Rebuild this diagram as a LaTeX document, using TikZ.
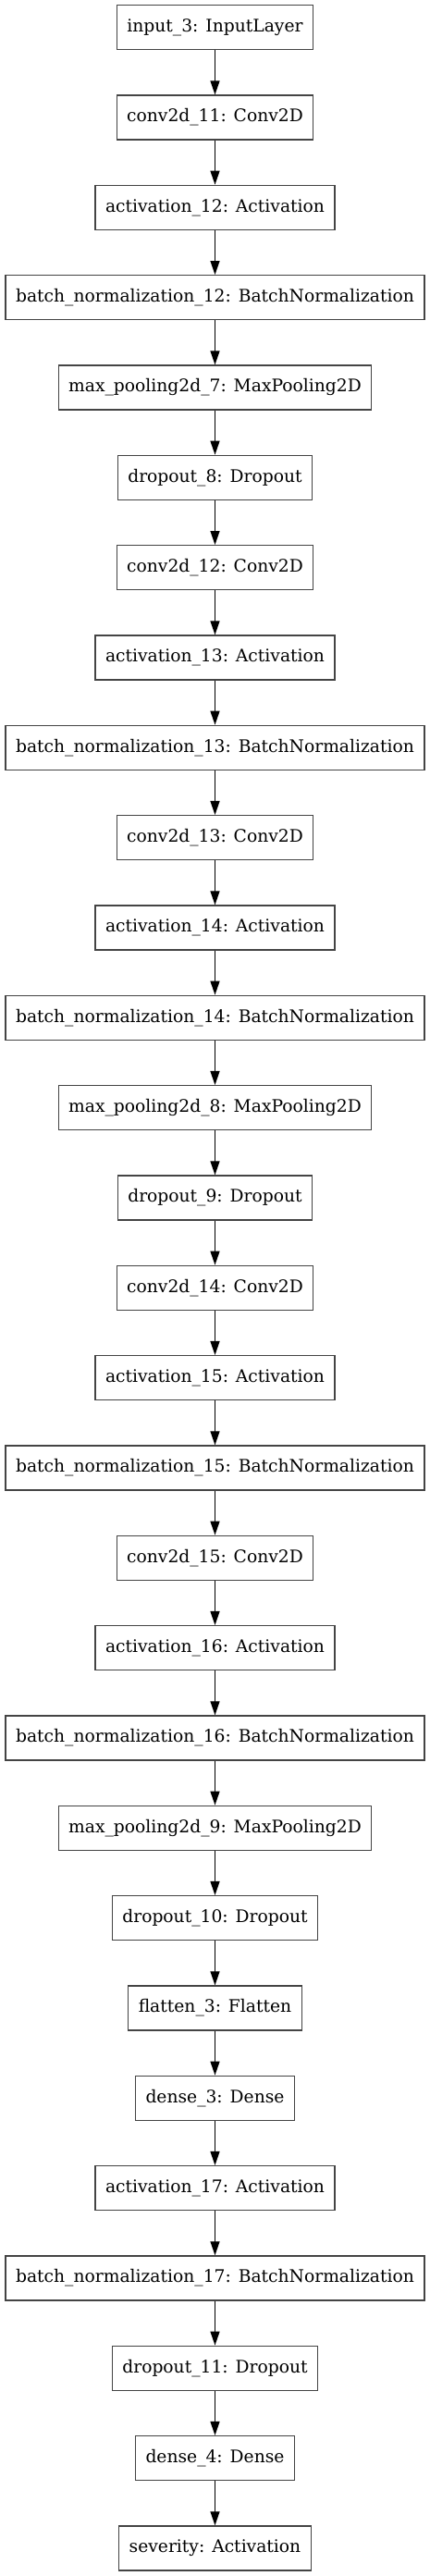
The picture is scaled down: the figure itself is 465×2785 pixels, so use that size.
\documentclass[tikz,border=0pt]{standalone}
\usepackage{fontspec}
\setmainfont{DejaVu Serif}
\usetikzlibrary{arrows.meta}
\definecolor{boxline}{HTML}{444444}
\tikzset{
  layer/.style={draw=boxline, line width=1.3pt, fill=white, minimum height=48pt,
    inner xsep=11pt, inner ysep=0pt, font=\fontsize{18.7}{21}\selectfont, anchor=center},
  arr/.style={-{Triangle[length=15pt,width=10pt]}, line width=1.3pt, black}
}
\begin{document}
\begin{tikzpicture}[x=1pt,y=1pt]
\fill[white] (0,0) rectangle (465,2785);
\useasboundingbox (0,0) rectangle (465,2785);
\foreach \t [count=\i from 0] in {
 input\_3: InputLayer,
 conv2d\_11: Conv2D,
 activation\_12: Activation,
 batch\_normalization\_12: BatchNormalization,
 max\_pooling2d\_7: MaxPooling2D,
 dropout\_8: Dropout,
 conv2d\_12: Conv2D,
 activation\_13: Activation,
 batch\_normalization\_13: BatchNormalization,
 conv2d\_13: Conv2D,
 activation\_14: Activation,
 batch\_normalization\_14: BatchNormalization,
 max\_pooling2d\_8: MaxPooling2D,
 dropout\_9: Dropout,
 conv2d\_14: Conv2D,
 activation\_15: Activation,
 batch\_normalization\_15: BatchNormalization,
 conv2d\_15: Conv2D,
 activation\_16: Activation,
 batch\_normalization\_16: BatchNormalization,
 max\_pooling2d\_9: MaxPooling2D,
 dropout\_10: Dropout,
 flatten\_3: Flatten,
 dense\_3: Dense,
 activation\_17: Activation,
 batch\_normalization\_17: BatchNormalization,
 dropout\_11: Dropout,
 dense\_4: Dense,
 severity: Activation}
{
  \node[layer] (n\i) at (232.5, {2785 - 29.7 - \i*97.33}) {\t};
}
\foreach \i [evaluate=\i as \j using int(\i+1)] in {0,...,27}
  \draw[arr] (n\i) -- (n\j);
\end{tikzpicture}
\end{document}
